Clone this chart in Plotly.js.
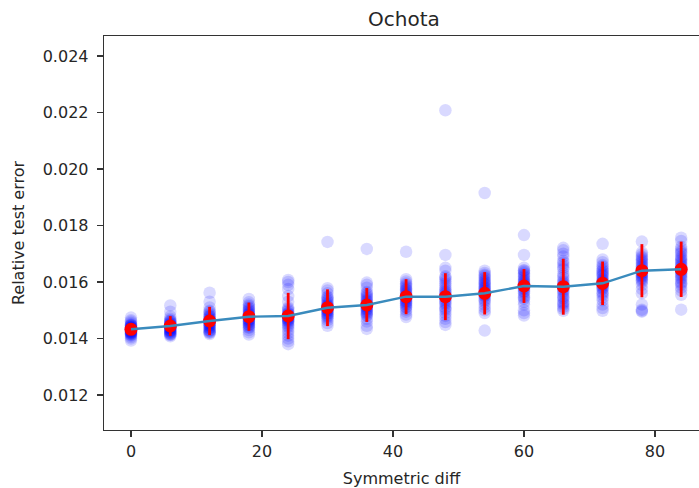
<!DOCTYPE html>
<html>
<head>
<meta charset="utf-8">
<script src="https://cdn.plot.ly/plotly-3.0.1.min.js"></script>
<style>html,body{margin:0;padding:0;background:#fff;}#chart{width:699px;height:488px;}</style>
</head>
<body>
<div id="chart"></div>
<script>
// Symmetric diff values (x positions of the groups)
const symDiffs = [0, 6, 12, 18, 24, 30, 36, 42, 48, 54, 60, 66, 72, 78, 84];

// Relative test error of individual runs, per symmetric diff
const err_d0  = [0.01474, 0.01465, 0.0146, 0.01455, 0.0145, 0.01448, 0.01445, 0.01442, 0.0144, 0.01438, 0.01435, 0.01433, 0.0143, 0.01428, 0.01425, 0.01423, 0.0142, 0.01418, 0.01415, 0.0141, 0.01405, 0.014, 0.01393,
                 0.01446, 0.01441, 0.01437, 0.01434, 0.01431, 0.01427, 0.01424, 0.01421, 0.01417, 0.01413];
const err_d6  = [0.01517, 0.01495, 0.01478, 0.0147, 0.01465, 0.0146, 0.01455, 0.01452, 0.01448, 0.01445, 0.01442, 0.0144, 0.01437, 0.01434, 0.0143, 0.01427, 0.01424, 0.0142, 0.01416, 0.01412, 0.01408,
                 0.01462, 0.01457, 0.0145, 0.01444, 0.01439, 0.01435, 0.01429, 0.01425, 0.01419, 0.01414];
const err_d12 = [0.01562, 0.0153, 0.0151, 0.01498, 0.0149, 0.0148, 0.01475, 0.0147, 0.01465, 0.0146, 0.01456, 0.01452, 0.01448, 0.01445, 0.0144, 0.01435, 0.0143, 0.01425, 0.0142, 0.01416,
                 0.01495, 0.01485, 0.01478, 0.01468, 0.01462, 0.01454, 0.01447, 0.01438, 0.01428, 0.01422];
const err_d18 = [0.0154, 0.01528, 0.0152, 0.0151, 0.01502, 0.01495, 0.0149, 0.01485, 0.0148, 0.01476, 0.01472, 0.01468, 0.01464, 0.0146, 0.01455, 0.0145, 0.01445, 0.01438, 0.0143, 0.01422, 0.01414,
                 0.01515, 0.01506, 0.01498, 0.01488, 0.01482, 0.01474, 0.01466, 0.01458, 0.01448, 0.0144];
const err_d24 = [0.01607, 0.016, 0.0159, 0.01575, 0.0155, 0.0153, 0.0151, 0.015, 0.0149, 0.01485, 0.0148, 0.01475, 0.0147, 0.01465, 0.0146, 0.0145, 0.0144, 0.0143, 0.0142, 0.0141, 0.014, 0.0139, 0.0138,
                 0.01505, 0.01495, 0.01488, 0.01482, 0.01478, 0.01472, 0.01467, 0.01462, 0.01455, 0.01445];
const err_d30 = [0.01742, 0.01578, 0.0157, 0.0156, 0.01548, 0.0154, 0.0153, 0.0152, 0.01515, 0.0151, 0.01505, 0.015, 0.01495, 0.0149, 0.01485, 0.0148, 0.01472, 0.01465, 0.01455, 0.01445,
                 0.01545, 0.01535, 0.01525, 0.01518, 0.01512, 0.01507, 0.01502, 0.01497, 0.01488, 0.01478];
const err_d36 = [0.01717, 0.01598, 0.0159, 0.0158, 0.01565, 0.01555, 0.01545, 0.01535, 0.01528, 0.0152, 0.01515, 0.0151, 0.01505, 0.015, 0.01495, 0.01488, 0.0148, 0.0147, 0.0146, 0.01445, 0.01434,
                 0.0156, 0.0155, 0.0154, 0.01532, 0.01524, 0.01518, 0.01512, 0.01503, 0.01492, 0.01484];
const err_d42 = [0.01707, 0.0161, 0.01602, 0.01595, 0.01585, 0.01575, 0.01568, 0.0156, 0.01555, 0.0155, 0.01545, 0.0154, 0.01535, 0.0153, 0.01525, 0.01518, 0.0151, 0.01502, 0.01495, 0.01485, 0.01476,
                 0.0159, 0.0158, 0.01572, 0.01563, 0.01552, 0.01547, 0.01542, 0.01532, 0.01522, 0.01512];
const err_d48 = [0.02208, 0.01696, 0.0165, 0.0164, 0.0162, 0.0161, 0.01595, 0.0158, 0.01568, 0.0156, 0.0155, 0.0154, 0.0153, 0.0152, 0.0151, 0.015, 0.0149, 0.0148, 0.0147, 0.01458, 0.01448,
                 0.01615, 0.01602, 0.01588, 0.01574, 0.01564, 0.01555, 0.01545, 0.01535, 0.01525, 0.01505];
const err_d54 = [0.01915, 0.0164, 0.01632, 0.01622, 0.01612, 0.01602, 0.01594, 0.01585, 0.01578, 0.0157, 0.01562, 0.01555, 0.01548, 0.0154, 0.0153, 0.0152, 0.0151, 0.015, 0.0149, 0.01428,
                 0.01626, 0.01616, 0.01606, 0.01598, 0.0159, 0.01581, 0.01574, 0.01566, 0.01552, 0.01535];
const err_d60 = [0.01766, 0.01696, 0.0165, 0.01642, 0.01635, 0.01625, 0.01615, 0.01605, 0.01598, 0.0159, 0.01583, 0.01575, 0.01568, 0.0156, 0.0155, 0.0154, 0.0153, 0.0152, 0.015, 0.0149, 0.01481,
                 0.0164, 0.0163, 0.0162, 0.0161, 0.01602, 0.01594, 0.01586, 0.01578, 0.01565, 0.01545];
const err_d66 = [0.01721, 0.01712, 0.017, 0.0169, 0.01675, 0.0166, 0.01645, 0.0163, 0.01615, 0.016, 0.0159, 0.0158, 0.0157, 0.0156, 0.0155, 0.0154, 0.0153, 0.0152, 0.01512, 0.01505, 0.01498,
                 0.01668, 0.01652, 0.01622, 0.01605, 0.01595, 0.01585, 0.01575, 0.01565, 0.01545, 0.01525];
const err_d72 = [0.01735, 0.0168, 0.0167, 0.0166, 0.01648, 0.01638, 0.01628, 0.0162, 0.01612, 0.01605, 0.01598, 0.0159, 0.01582, 0.01575, 0.01565, 0.01555, 0.01545, 0.01535, 0.0152, 0.01508, 0.01498,
                 0.01655, 0.01642, 0.01632, 0.01624, 0.01608, 0.01601, 0.01594, 0.01586, 0.01578, 0.0156];
const err_d78 = [0.01743, 0.01705, 0.01698, 0.0169, 0.0168, 0.0167, 0.0166, 0.0165, 0.01645, 0.0164, 0.01635, 0.0163, 0.01625, 0.01618, 0.0161, 0.016, 0.0159, 0.01575, 0.0156, 0.0152, 0.01502, 0.01495,
                 0.01685, 0.01675, 0.01665, 0.01655, 0.01642, 0.01632, 0.01622, 0.01614, 0.01605, 0.01498];
const err_d84 = [0.01757, 0.01745, 0.01725, 0.0171, 0.017, 0.0169, 0.0168, 0.0167, 0.0166, 0.0165, 0.01645, 0.0164, 0.01635, 0.0163, 0.0162, 0.0161, 0.016, 0.0159, 0.0158, 0.0157, 0.01555, 0.01502,
                 0.01718, 0.01705, 0.01685, 0.01675, 0.01665, 0.01655, 0.01642, 0.01625, 0.01615, 0.01595];

// Mean and spread (error bar half-length) per symmetric diff
const meanError = [0.014326, 0.014442, 0.014619, 0.014772, 0.014796, 0.01509, 0.015186, 0.01548, 0.01548, 0.0156, 0.015858, 0.015834, 0.015954, 0.0164, 0.01645];
const stdError  = [0.00015, 0.00035, 0.0005, 0.0005, 0.00082, 0.00065, 0.0006, 0.00062, 0.00083, 0.00075, 0.0006, 0.00099, 0.00077, 0.00094, 0.00098];

// Tick labels
const xTicks = [0, 20, 40, 60, 80];
const yTicks = [0.012, 0.014, 0.016, 0.018, 0.020, 0.022, 0.024];

const groups = [err_d0, err_d6, err_d12, err_d18, err_d24, err_d30, err_d36, err_d42, err_d48, err_d54, err_d60, err_d66, err_d72, err_d78, err_d84];
const runX = [], runY = [];
groups.forEach((g, i) => g.forEach(v => { runX.push(symDiffs[i]); runY.push(v); }));

const font = 'DejaVu Sans, sans-serif';
const txt = '#262626';

const traces = [
  {
    type: 'scatter', mode: 'markers', x: runX, y: runY,
    marker: {size: 12.5, color: 'rgba(0,0,255,0.15)', line: {width: 0}},
    hoverinfo: 'x+y', showlegend: false
  },
  {
    type: 'scatter', mode: 'markers', x: symDiffs, y: meanError,
    marker: {size: 13, color: '#ff0000', line: {width: 0, color: '#ff0000'}},
    error_y: {type: 'data', array: stdError, visible: true, color: '#ff0000', thickness: 2.8, width: 0},
    showlegend: false
  },
  {
    type: 'scatter', mode: 'lines', x: symDiffs, y: meanError,
    line: {color: '#3a8bbd', width: 2.4},
    showlegend: false
  }
];

const layout = {
  width: 699, height: 488,
  margin: {l: 104, r: 0, t: 36, b: 58, pad: 0},
  paper_bgcolor: '#ffffff', plot_bgcolor: '#ffffff',
  font: {family: font, size: 16, color: txt},
  title: {text: 'Ochota', font: {family: font, size: 20, color: txt},
          xref: 'paper', x: 0.504, xanchor: 'center', yref: 'container', y: 1 - 19/488, yanchor: 'middle'},
  xaxis: {
    range: [-4.122, 86.72], tickvals: xTicks, ticktext: xTicks.map(String),
    showgrid: false, zeroline: false,
    showline: true, linecolor: '#333', linewidth: 1.3, mirror: true,
    ticks: 'outside', ticklen: 6, tickwidth: 1.3, tickcolor: '#333',
    tickfont: {family: font, size: 16, color: txt},
    title: {text: 'Symmetric diff', font: {family: font, size: 16, color: txt}, standoff: 14}
  },
  yaxis: {
    range: [0.010761, 0.024708], tickvals: yTicks, ticktext: yTicks.map(v => v.toFixed(3)),
    showgrid: false, zeroline: false,
    showline: true, linecolor: '#333', linewidth: 1.3, mirror: false,
    ticks: 'outside', ticklen: 6, tickwidth: 1.3, tickcolor: '#333',
    ticklabelstandoff: 5,
    tickfont: {family: font, size: 16, color: txt},
    title: {text: 'Relative test error', font: {family: font, size: 16, color: txt}, standoff: 14}
  }
};

Plotly.newPlot('chart', traces, layout, {displayModeBar: false, staticPlot: true});
</script>
</body>
</html>
